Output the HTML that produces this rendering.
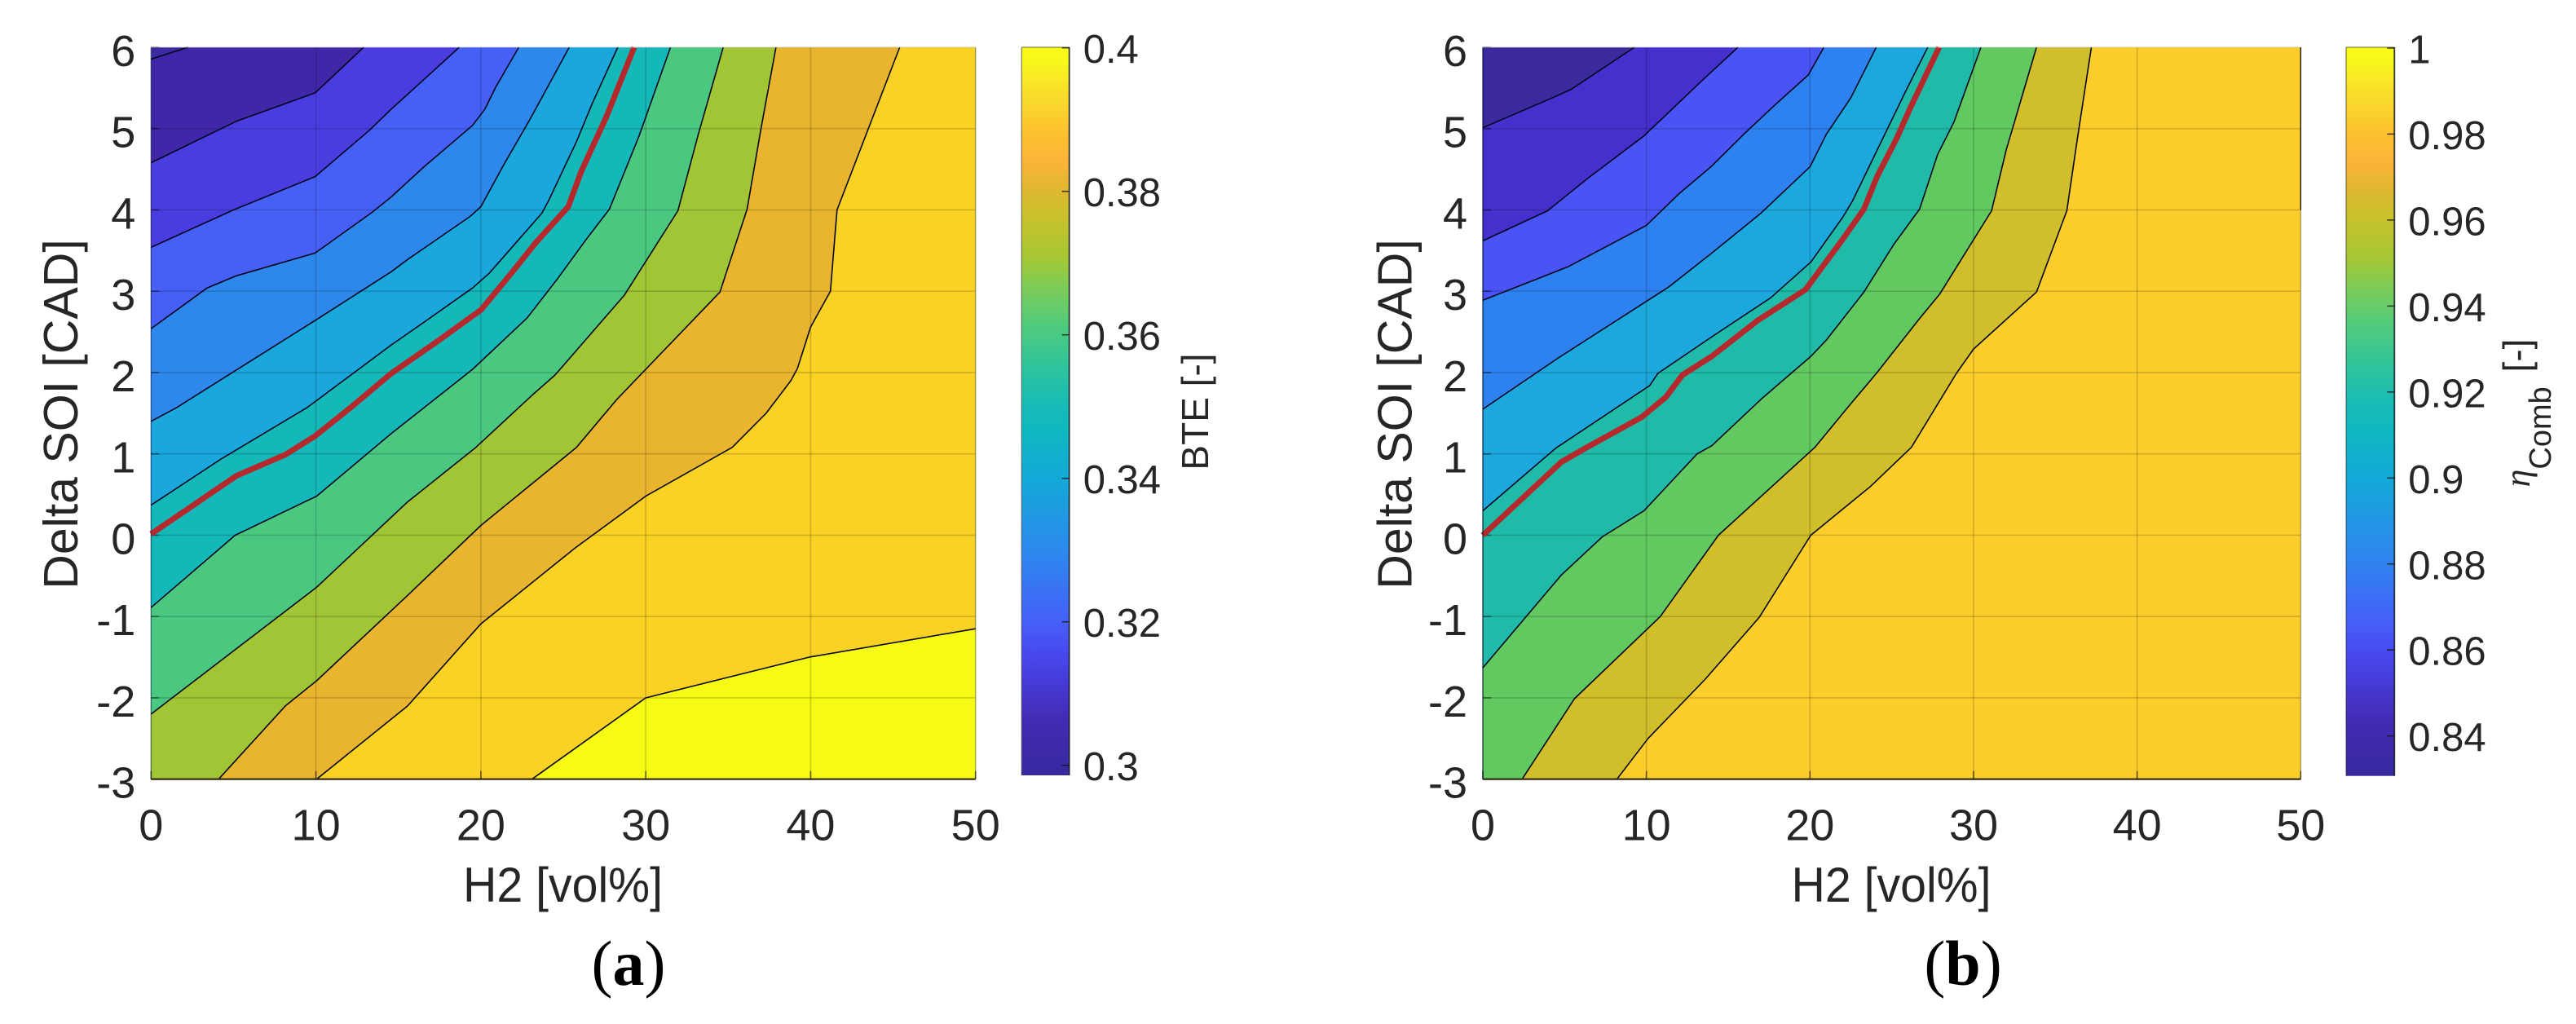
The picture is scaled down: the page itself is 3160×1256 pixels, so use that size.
<!DOCTYPE html>
<html lang="en">
<head>
<meta charset="utf-8">
<title>BTE and combustion efficiency contour maps</title>
<style>
html,body{margin:0;padding:0;background:#fff;}
svg{display:block;}
text{font-family:"Liberation Sans",Arial,sans-serif;fill:#262626;}
.cap{font-family:"Liberation Serif","Times New Roman",serif;fill:#000;}
</style>
</head>
<body>
<svg id="figure" xmlns="http://www.w3.org/2000/svg" width="3160" height="1256" viewBox="0 0 3160 1256">
  <defs>
    <linearGradient id="cbar-gradient" x1="0" y1="0" x2="0" y2="1">
      <stop offset="0" stop-color="#f9fb15"/>
      <stop offset="0.02" stop-color="#f8f81c"/>
      <stop offset="0.066" stop-color="#f8dc2c"/>
      <stop offset="0.122" stop-color="#fdc02f"/>
      <stop offset="0.159" stop-color="#fbb43a"/>
      <stop offset="0.196" stop-color="#dfb82f"/>
      <stop offset="0.234" stop-color="#c8c12c"/>
      <stop offset="0.290" stop-color="#a5c734"/>
      <stop offset="0.327" stop-color="#80cc55"/>
      <stop offset="0.383" stop-color="#50cb7c"/>
      <stop offset="0.439" stop-color="#2ec49c"/>
      <stop offset="0.495" stop-color="#16bab8"/>
      <stop offset="0.530" stop-color="#0fb8c0"/>
      <stop offset="0.595" stop-color="#14a8d8"/>
      <stop offset="0.698" stop-color="#2d87ee"/>
      <stop offset="0.788" stop-color="#4560f8"/>
      <stop offset="0.832" stop-color="#4848f0"/>
      <stop offset="0.922" stop-color="#432bb5"/>
      <stop offset="1" stop-color="#38299e"/>
    </linearGradient>
  </defs>

  <g id="panel-a"></g>
  <g id="panel-b"></g>

  <text x="690.5" y="1106" text-anchor="middle" font-size="60" textLength="245" lengthAdjust="spacingAndGlyphs">H2 [vol%]</text>
  <text transform="translate(95,508) rotate(-90)" text-anchor="middle" font-size="59">Delta SOI [CAD]</text>
  <text transform="translate(1482,505) rotate(-90)" text-anchor="middle" font-size="46">BTE [-]</text>
  <text class="cap" x="771" y="1208" text-anchor="middle" font-size="78">(<tspan font-weight="bold">a</tspan>)</text>

  <text x="2320" y="1106" text-anchor="middle" font-size="60" textLength="245" lengthAdjust="spacingAndGlyphs">H2 [vol%]</text>
  <text transform="translate(1731.5,508) rotate(-90)" text-anchor="middle" font-size="59">Delta SOI [CAD]</text>
  <text transform="translate(3103,506.5) rotate(-90)" text-anchor="middle" font-size="46"><tspan font-family="Liberation Serif" font-style="italic" font-size="44">η</tspan><tspan dy="26" font-size="38">Comb</tspan><tspan dy="-26" dx="5"> [-]</tspan></text>
  <text class="cap" x="2408" y="1208" text-anchor="middle" font-size="78">(<tspan font-weight="bold">b</tspan>)</text>
</svg>

<script>
// Axis tick labels
const h2Ticks = [0, 10, 20, 30, 40, 50];
const soiTicks = [6, 5, 4, 3, 2, 1, 0, -1, -2, -3];
const bteTicks = [0.4, 0.38, 0.36, 0.34, 0.32, 0.3];
const etaTicks = [1, 0.98, 0.96, 0.94, 0.92, 0.9, 0.88, 0.86, 0.84];

// Panel (a) BTE iso-lines: [H2 vol%, Delta SOI CAD]
const bteLine0 = [[0,5.855],[2.24,6]];
const bteLine1 = [[0,4.58],[5.17,5.09],[9.95,5.44],[12.9,6]];
const bteLine2 = [[0,3.54],[5,4.0],[9.95,4.41],[13.25,4.98],[14.57,5.24],[15.6,5.43],[18.69,6]];
const bteLine3 = [[0,2.54],[3.4,3.04],[5.17,3.19],[9.95,3.47],[13.4,3.97],[14.57,4.16],[16.55,4.53],[19.5,5.04],[20.25,5.24],[20.9,5.51],[22.3,6]];
const bteLine4 = [[0,1.4],[1.55,1.57],[9.95,2.64],[14.57,3.24],[15.56,3.39],[19.35,3.92],[20,4.04],[21.4,4.56],[22.97,5.11],[25.36,6]];
const bteLine5 = [[0,0.37],[4.19,0.93],[9.46,1.57],[14.57,2.34],[16.7,2.64],[19.5,3.04],[20.5,3.22],[23.7,3.96],[24.1,4.11],[25.8,4.84],[26.76,5.31],[28.3,6]];
const bteLine6 = [[0,-0.89],[5.1,0],[10.04,0.48],[14.57,1.25],[19.5,2.04],[22.8,2.67],[24.6,3.14],[26.4,3.64],[27.8,4.01],[29.6,4.91],[31.5,6]];
const bteLine7 = [[0,-2.2],[10.04,-0.64],[15.56,0.41],[19.7,1.08],[23.1,1.72],[24.5,1.97],[28.7,2.95],[31.95,3.99],[33.2,4.94],[34.7,6]];
const bteLine8 = [[4.1,-3],[8.14,-2.1],[10.04,-1.79],[15.56,-0.74],[20,0.12],[25.8,1.08],[28.25,1.67],[34.5,2.99],[36.15,4.01],[37,5.01],[37.9,6]];
const bteLine9 = [[10.04,-3],[15.56,-2.1],[20,-1.09],[25.7,-0.16],[30,0.48],[35.25,1.08],[37.3,1.5],[38.8,1.9],[39.2,2.05],[40,2.56],[41.2,3],[41.6,4],[45.4,6]];
const bteLine10 = [[23.1,-3],[30,-2.0],[39.9,-1.5],[50,-1.15]];
const bteOptimum = [[0,0.015],[5.17,0.73],[8.14,0.99],[9.95,1.22],[12.1,1.57],[14.57,1.99],[17.4,2.39],[20,2.77],[21.8,3.21],[23.3,3.59],[25.3,4.04],[26.1,4.48],[27.6,5.14],[29.3,6]];

// Panel (b) combustion efficiency iso-lines: [H2 vol%, Delta SOI CAD]
const etaLine0 = [[0,5.01],[4.04,5.36],[5.37,5.48],[9.27,6]];
const etaLine1 = [[0,3.62],[3.96,3.99],[6.36,4.38],[9.85,4.91],[13.5,5.61],[15.6,6]];
const etaLine2 = [[0,2.89],[5.2,3.3],[10,3.81],[12,4.2],[14,4.54],[16,4.94],[17.8,5.28],[19.9,5.66],[20.85,6]];
const etaLine3 = [[0,1.55],[4.54,2.17],[11.35,3.05],[14,3.47],[15.66,3.74],[17,3.96],[20,4.53],[21,4.93],[22.5,5.38],[24.05,6]];
const etaLine4 = [[0,0.3],[4.46,1.07],[10.2,1.84],[10.7,1.99],[14,2.44],[17.6,2.92],[20.06,3.36],[22,3.91],[22.6,4.11],[24.6,4.94],[25.9,5.48],[27.2,6]];
const etaLine5 = [[0,-1.63],[4.8,-0.49],[7.3,-0.02],[9.85,0.3],[13.1,1.0],[14,1.1],[17,1.67],[20.06,2.2],[21,2.4],[23.3,2.99],[25.1,3.57],[26.7,4.01],[27.8,4.68],[28.8,5.08],[30.45,6]];
const etaLine6 = [[2.4,-3],[5.6,-2.01],[10.85,-1.0],[14.4,0],[20.3,1.08],[22.3,1.57],[24.1,2.0],[26.6,2.64],[27.95,2.97],[31.1,3.99],[32,4.74],[33.85,6]];
const etaLine7 = [[8.2,-3],[10.1,-2.5],[13.6,-1.77],[16.9,-1.01],[20.05,0],[23.7,0.6],[26.2,1.08],[28.95,1.99],[30,2.29],[33.85,2.99],[35.7,3.99],[36.35,4.88],[37.2,6]];
const etaEdge = [[50,6],[50,4]];
const etaOptimum = [[0,0],[4.8,0.9],[6.36,1.08],[9.7,1.45],[11.2,1.7],[12.2,1.97],[14,2.2],[16.8,2.64],[19.73,3.02],[22,3.64],[23.3,4.01],[24.1,4.41],[25.3,4.88],[26.1,5.24],[27.9,6]];

const bteLines = [bteLine0,bteLine1,bteLine2,bteLine3,bteLine4,bteLine5,bteLine6,bteLine7,bteLine8,bteLine9,bteLine10];
const etaLines = [etaLine0,etaLine1,etaLine2,etaLine3,etaLine4,etaLine5,etaLine6,etaLine7];

const NS = 'http://www.w3.org/2000/svg';
const h2Min = 0, h2Max = 50, soiMin = -3, soiMax = 6;

function mk(tag, attrs, parent) {
  const el = document.createElementNS(NS, tag);
  for (const k in attrs) el.setAttribute(k, attrs[k]);
  parent.appendChild(el);
  return el;
}

function drawPanel(cfg) {
  const g = document.getElementById(cfg.id);
  const xAxis = v => cfg.left + (v - h2Min) / (h2Max - h2Min) * (cfg.right - cfg.left);
  const yAxis = v => cfg.bottom - (v - soiMin) / (soiMax - soiMin) * (cfg.bottom - cfg.top);
  const cAxis = v => cfg.cbTickBottomY + (v - cfg.cbTickBottom) / (cfg.cbTickTop - cfg.cbTickBottom) * (cfg.cbTickTopY - cfg.cbTickBottomY);
  const pts = list => list.map(p => xAxis(p[0]).toFixed(1) + ',' + yAxis(p[1]).toFixed(1)).join(' ');

  const base = mk('rect', {x: cfg.left, y: cfg.top, width: cfg.right - cfg.left, height: cfg.bottom - cfg.top, fill: cfg.regions[0]}, g);
  
  

  cfg.lines.forEach((line, i) => {
    const outline = line.slice();
    const first = line[0], last = line[line.length - 1];
    if (last[1] >= soiMax) outline.push([h2Max, soiMax]);
    outline.push([h2Max, soiMin]);
    if (first[0] <= h2Min) outline.push([h2Min, soiMin]);
    const region = mk('polygon', {points: pts(outline), fill: cfg.regions[i + 1]}, g);
    
    
  });

  h2Ticks.forEach(v => {
    const grid = mk('line', {x1: xAxis(v), x2: xAxis(v), y1: cfg.top, y2: cfg.bottom, stroke: '#000', 'stroke-opacity': 0.17, 'stroke-width': 1.6}, g);
    
    
    const tick = mk('line', {x1: xAxis(v), x2: xAxis(v), y1: cfg.bottom, y2: cfg.bottom - 10, stroke: '#000', 'stroke-opacity': 0.55, 'stroke-width': 1.6}, g);
    
    
    const label = mk('text', {x: xAxis(v), y: 1030.5, 'text-anchor': 'middle', 'font-size': 54}, g);
    label.textContent = String(v);
    
    
  });

  soiTicks.forEach(v => {
    const grid = mk('line', {x1: cfg.left, x2: cfg.right, y1: yAxis(v), y2: yAxis(v), stroke: '#000', 'stroke-opacity': 0.17, 'stroke-width': 1.6}, g);
    
    
    const tick = mk('line', {x1: cfg.left, x2: cfg.left + 10, y1: yAxis(v), y2: yAxis(v), stroke: '#000', 'stroke-opacity': 0.45, 'stroke-width': 1.6}, g);
    
    
    const label = mk('text', {x: cfg.left - 19, y: yAxis(v) + 23, 'text-anchor': 'end', 'font-size': 54}, g);
    label.textContent = String(v);
    
    
  });

  cfg.lines.forEach(line => {
    const iso = mk('polyline', {points: pts(line), fill: 'none', stroke: '#05051e', 'stroke-width': 1.6, 'stroke-linejoin': 'round'}, g);
    
    
  });

  if (cfg.extra) {
    const edge = mk('polyline', {points: pts(cfg.extra), fill: 'none', stroke: '#222', 'stroke-width': 1.4}, g);
    
    
  }

  const red = mk('polyline', {points: pts(cfg.optimum), fill: 'none', stroke: '#b5282c', 'stroke-width': 7, 'stroke-linejoin': 'round'}, g);
  
  

  const leftAxis = mk('line', {x1: cfg.left, x2: cfg.left, y1: cfg.top, y2: cfg.bottom, stroke: '#001030', 'stroke-opacity': cfg.leftAxisOpacity, 'stroke-width': 1.6}, g);
  
  
  const rightAxis = mk('line', {x1: cfg.right, x2: cfg.right, y1: cfg.top, y2: cfg.bottom, stroke: '#000', 'stroke-opacity': 0.12, 'stroke-width': 1.4}, g);
  
  
  const topAxis = mk('line', {x1: cfg.left, x2: cfg.right, y1: cfg.top, y2: cfg.top, stroke: '#fff', 'stroke-opacity': 0.3, 'stroke-width': 1.8}, g);
  
  
  const bottomAxis = mk('line', {x1: cfg.left, x2: cfg.right, y1: cfg.bottom, y2: cfg.bottom, stroke: '#332a10', 'stroke-opacity': 0.9, 'stroke-width': 2.4}, g);
  
  

  const bar = mk('rect', {x: cfg.cbLeft, y: cfg.top, width: cfg.cbRight - cfg.cbLeft, height: cfg.cbBottom - cfg.top, fill: 'url(#cbar-gradient)'}, g);
  
  
  const barLeft = mk('line', {x1: cfg.cbLeft, x2: cfg.cbLeft, y1: cfg.top, y2: cfg.cbBottom, stroke: '#222', 'stroke-opacity': 0.5, 'stroke-width': 1.4}, g);
  
  
  const barRight = mk('line', {x1: cfg.cbRight, x2: cfg.cbRight, y1: cfg.top, y2: cfg.cbBottom, stroke: '#101820', 'stroke-opacity': 0.85, 'stroke-width': 1.8}, g);
  
  
  const barTop = mk('line', {x1: cfg.cbLeft, x2: cfg.cbRight, y1: cfg.top, y2: cfg.top, stroke: '#222', 'stroke-opacity': 0.55, 'stroke-width': 1.2}, g);
  
  

  cfg.cbTicks.forEach(v => {
    const tick = mk('line', {x1: cfg.cbRight, x2: cfg.cbRight - 9, y1: cAxis(v), y2: cAxis(v), stroke: '#111', 'stroke-opacity': 0.8, 'stroke-width': 1.5}, g);
    
    
    const label = mk('text', {x: cfg.cbRight + 17, y: cAxis(v) + 18.5, 'font-size': 49}, g);
    label.textContent = String(v);
    
    
  });
}

drawPanel({
  id: 'panel-a', left: 185.3, right: 1196.7, top: 58, bottom: 955.7, leftAxisOpacity: 0.25,
  lines: bteLines, optimum: bteOptimum,
  regions: ['#3c2aa3','#3f27a8','#4a3ddf','#4660f5','#2e88ec','#1aa7dc','#15b8b8','#4ac880','#a2c535','#e9b52e','#f9d224','#f6fa14'],
  cbLeft: 1253.3, cbRight: 1311.7, cbBottom: 951,
  cbTicks: bteTicks, cbTickTop: 0.38, cbTickTopY: 234.7, cbTickBottom: 0.36, cbTickBottomY: 410.7
});

drawPanel({
  id: 'panel-b', left: 1819, right: 2822.3, top: 58, bottom: 955.7, leftAxisOpacity: 0.6,
  lines: etaLines, optimum: etaOptimum, extra: etaEdge,
  regions: ['#3a2a9e','#4430cc','#4a54f5','#2e82ef','#1ca8dc','#1fbba8','#62c960','#d0bf2a','#fdcd2b'],
  cbLeft: 2878, cbRight: 2937.3, cbBottom: 951.7,
  cbTicks: etaTicks, cbTickTop: 0.9, cbTickTopY: 586.3, cbTickBottom: 0.84, cbTickBottomY: 902.7
});
</script>
</body>
</html>
